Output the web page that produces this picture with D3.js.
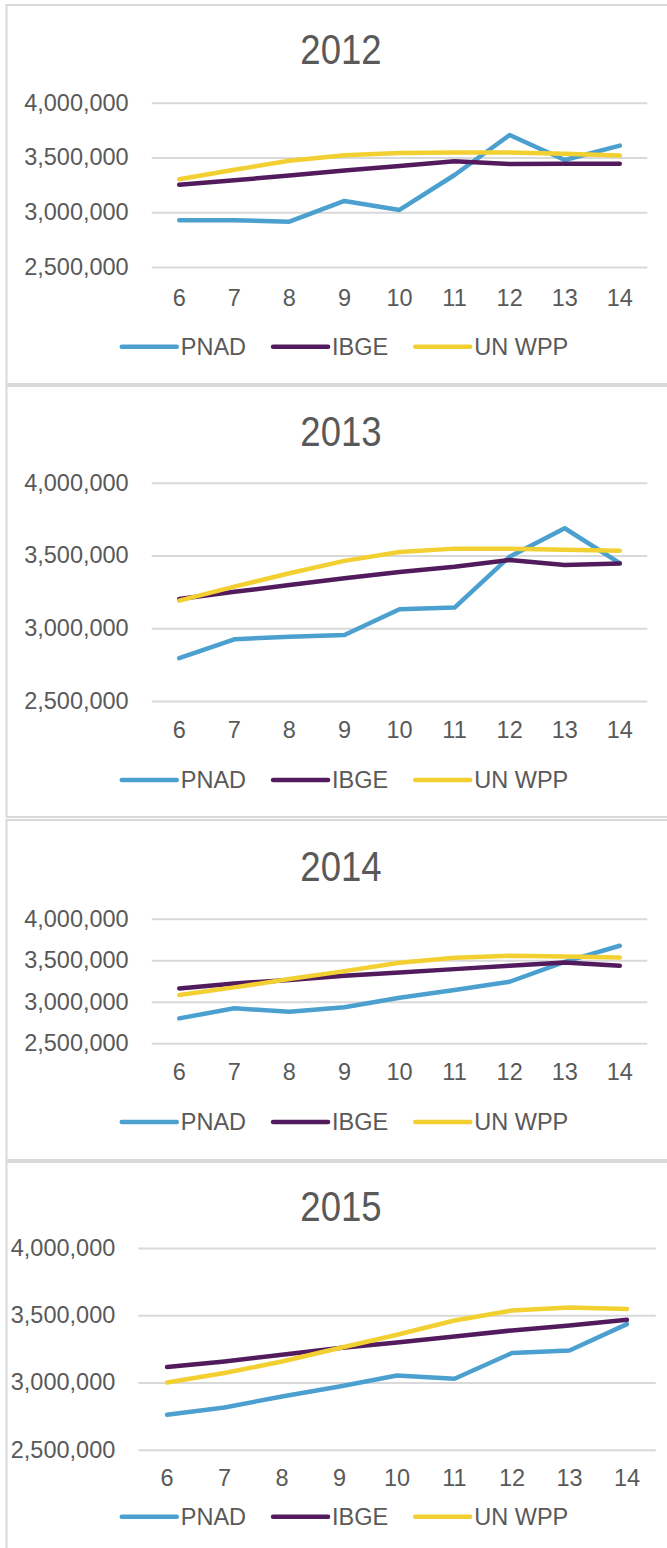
<!DOCTYPE html>
<html>
<head>
<meta charset="utf-8">
<script src="https://cdn.jsdelivr.net/npm/d3@7"></script>
<style>
  html, body { margin: 0; padding: 0; background: #ffffff; }
  svg { display: block; font-family: "Liberation Sans", Arial, sans-serif; }
  .grid line { stroke: #d9d9d9; stroke-width: 2; }
  .grid path { display: none; }
  .lbl { fill: #595959; }
</style>
</head>
<body>
<script>
// ages on the x axis
const ages = [6, 7, 8, 9, 10, 11, 12, 13, 14];

// panel titles
const years = ["2012", "2013", "2014", "2015"];

// series names and colours
const seriesNames = ["PNAD", "IBGE", "UN WPP"];
const seriesColors = ["#4ba0cf", "#521b5e", "#f2d031"];

// y axis ticks
const yTicks = [2500000, 3000000, 3500000, 4000000];

// values, one array per series and year
const pnad2012 = [2927000, 2927000, 2914000, 3103000, 3021000, 3340000, 3705000, 3477000, 3608000];
const ibge2012 = [3250000, 3292000, 3335000, 3380000, 3423000, 3465000, 3440000, 3442000, 3442000];
const unwpp2012 = [3301000, 3388000, 3470000, 3520000, 3541000, 3545000, 3545000, 3535000, 3518000];

const pnad2013 = [2794000, 2924000, 2942000, 2954000, 3131000, 3142000, 3492000, 3687000, 3447000];
const ibge2013 = [3201000, 3250000, 3297000, 3344000, 3387000, 3423000, 3469000, 3435000, 3444000];
const unwpp2013 = [3190000, 3286000, 3378000, 3463000, 3524000, 3547000, 3547000, 3540000, 3533000];

const pnad2014 = [2800000, 2921000, 2880000, 2933000, 3048000, 3141000, 3241000, 3481000, 3674000];
const ibge2014 = [3161000, 3221000, 3261000, 3313000, 3353000, 3393000, 3433000, 3474000, 3433000];
const unwpp2014 = [3081000, 3173000, 3273000, 3369000, 3469000, 3529000, 3553000, 3546000, 3534000];

const pnad2015 = [2760000, 2814000, 2896000, 2970000, 3052000, 3028000, 3219000, 3238000, 3434000];
const ibge2015 = [3115000, 3156000, 3206000, 3256000, 3297000, 3342000, 3387000, 3424000, 3466000];
const unwpp2015 = [3000000, 3070000, 3156000, 3256000, 3355000, 3461000, 3535000, 3558000, 3546000];

const seriesByYear = [
    [pnad2012, ibge2012, unwpp2012],
    [pnad2013, ibge2013, unwpp2013],
    [pnad2014, ibge2014, unwpp2014],
    [pnad2015, ibge2015, unwpp2015]
];

// panel geometry (page pixels)
const panels = [
    { top: 5,    bottom: 384,  titleY: 49,   gTop: 102.7, gBot: 267,    gLeft: 151.7, gRight: 647.3, xLblY: 298,    legY: 346.7 },
    { top: 386,  bottom: 817,  titleY: 431,  gTop: 482.7, gBot: 701,    gLeft: 151.7, gRight: 647.3, xLblY: 730,    legY: 780 },
    { top: 820,  bottom: 1160, titleY: 866,  gTop: 918.7, gBot: 1043.3, gLeft: 151.7, gRight: 647.3, xLblY: 1071.7, legY: 1122 },
    { top: 1162, bottom: 1620, titleY: 1206, gTop: 1248,  gBot: 1449.7, gLeft: 138.3, gRight: 655.7, xLblY: 1477.7, legY: 1516.7 }
];

const FONT = 23.5;
const TITLE_FONT = 42;
const LINE_W = 4.5;
const TEXT_COLOR = "#595959";

const svg = d3.select("body").append("svg")
    .attr("width", 667)
    .attr("height", 1548);

svg.append("rect").attr("width", 667).attr("height", 1548).attr("fill", "#ffffff");

const fmt = d3.format(",");

panels.forEach((p, i) => {
    const g = svg.append("g");

    // chart frame
    g.append("rect")
        .attr("x", 6.5).attr("y", p.top)
        .attr("width", 720).attr("height", p.bottom - p.top)
        .attr("fill", "#ffffff")
        .attr("stroke", "#d9d9d9")
        .attr("stroke-width", 2);

    // title, slightly condensed like the original
    g.append("text")
        .attr("class", "lbl")
        .attr("transform", `translate(341,${p.titleY}) scale(0.87,1)`)
        .attr("text-anchor", "middle")
        .attr("dominant-baseline", "central")
        .style("font-size", TITLE_FONT + "px")
        .text(years[i]);

    const x = d3.scalePoint().domain(ages).range([p.gLeft, p.gRight]).padding(0.5);
    const y = d3.scaleLinear().domain([2500000, 4000000]).range([p.gBot, p.gTop]);

    // gridlines
    g.append("g")
        .attr("class", "grid")
        .attr("transform", `translate(${p.gLeft},0)`)
        .call(d3.axisLeft(y).tickValues(yTicks).tickSize(-(p.gRight - p.gLeft)).tickFormat(""));

    // y labels
    g.selectAll("text.ylab")
        .data(yTicks)
        .join("text")
        .attr("class", "lbl ylab")
        .attr("x", p.gLeft - 23)
        .attr("y", d => y(d))
        .attr("text-anchor", "end")
        .attr("dominant-baseline", "central")
        .style("font-size", FONT + "px")
        .text(d => fmt(d));

    // x labels
    g.selectAll("text.xlab")
        .data(ages)
        .join("text")
        .attr("class", "lbl xlab")
        .attr("x", d => x(d))
        .attr("y", p.xLblY)
        .attr("text-anchor", "middle")
        .attr("dominant-baseline", "central")
        .style("font-size", FONT + "px")
        .text(d => d);

    // series lines
    const line = d3.line()
        .x((d, k) => x(ages[k]))
        .y(d => y(d));

    seriesByYear[i].forEach((vals, s) => {
        g.append("path")
            .datum(vals)
            .attr("d", line)
            .attr("fill", "none")
            .attr("stroke", seriesColors[s])
            .attr("stroke-width", LINE_W)
            .attr("stroke-linecap", "round")
            .attr("stroke-linejoin", "round");
    });

    // legend
    const leg = g.append("g");
    let cx = 0;
    seriesNames.forEach((name, s) => {
        const item = leg.append("g").attr("transform", `translate(${cx},0)`);
        item.append("line")
            .attr("x1", 0).attr("x2", 55)
            .attr("y1", p.legY).attr("y2", p.legY)
            .attr("stroke", seriesColors[s])
            .attr("stroke-width", LINE_W)
            .attr("stroke-linecap", "round");
        const t = item.append("text")
            .attr("class", "lbl")
            .attr("x", 59)
            .attr("y", p.legY)
            .attr("dominant-baseline", "central")
            .style("font-size", FONT + "px")
            .text(name);
        cx += 59 + t.node().getComputedTextLength() + 27;
    });
    const legW = cx - 27;
    leg.attr("transform", `translate(${345 - legW / 2},0)`);
});
</script>
</body>
</html>
